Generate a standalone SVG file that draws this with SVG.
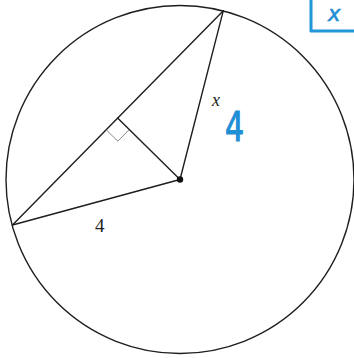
<svg xmlns="http://www.w3.org/2000/svg" width="354" height="358" viewBox="0 0 354 358">
<style>
.ln{stroke:#1e1e1e;stroke-width:1.4;fill:none;stroke-linecap:round}
.ra{stroke:#8a8a8a;stroke-width:1;fill:none}
.lbl{font-family:"Liberation Serif","Times New Roman",serif;fill:#222}
.blue{fill:none;stroke:#2196d8;stroke-width:3;stroke-linecap:round;stroke-linejoin:round}
.bt{font-family:"DejaVu Sans","Liberation Sans",sans-serif;fill:#1f8fd6}
</style>
<rect width="354" height="358" fill="#ffffff"/>
<g id="circle">
<circle cx="180" cy="179.5" r="174" class="ln"/>
</g>
<g id="segments">
<line x1="12.5" y1="225" x2="223.3" y2="10.7" class="ln"/>
<line x1="180" y1="179.5" x2="223.3" y2="10.7" class="ln"/>
<line x1="180" y1="179.5" x2="12.5" y2="225" class="ln"/>
<line x1="117.6" y1="118.1" x2="180" y2="179.5" class="ln"/>
<polyline points="106.4,130 117.8,141.2 129,129.8" class="ra"/>
</g>
<g id="center">
<circle cx="180" cy="179.5" r="3.2" fill="#111"/>
</g>
<g id="labels">
<text x="212" y="106" class="lbl" font-size="18" font-style="italic">x</text>
<text x="95" y="231.5" class="lbl" font-size="19">4</text>
</g>
<g id="handwriting">
<text x="225" y="141" class="bt" font-size="40" stroke="#1f8fd6" stroke-width="1.2" transform="translate(225 141) scale(0.75 1) translate(-225 -141)">4</text>
<path d="M311,-2 L311,31 L356,31" class="blue"/>
<text x="328" y="21" class="bt" font-size="21" font-style="italic" stroke="#1f8fd6" stroke-width="0.6">x</text>
</g>
</svg>
